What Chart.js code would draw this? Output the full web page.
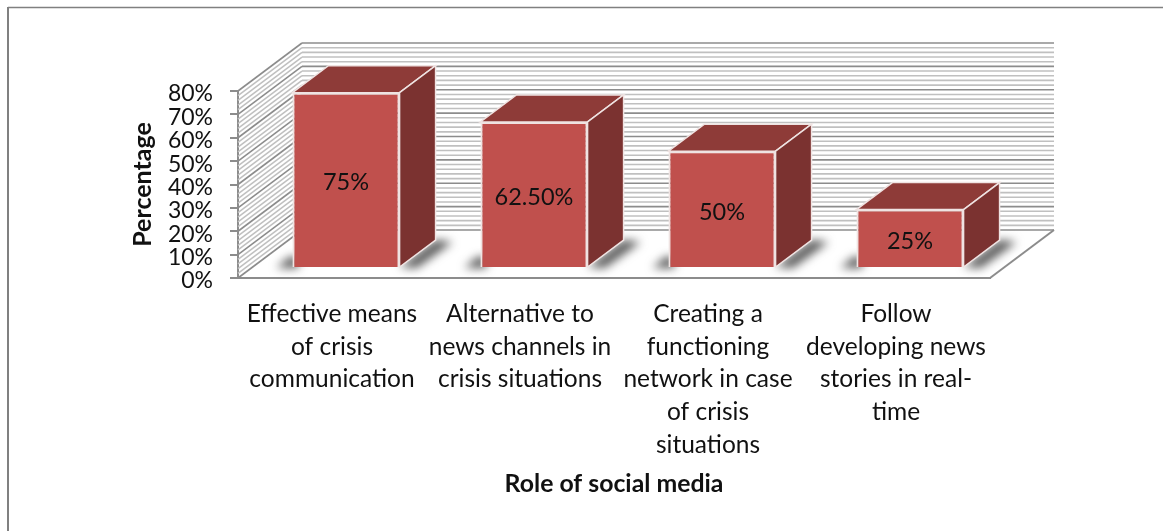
<!DOCTYPE html>
<html>
<head>
<meta charset="utf-8">
<title>Role of social media</title>
<script src="https://cdn.jsdelivr.net/npm/chart.js@4"></script>
<style>
    html, body { margin: 0; padding: 0; background: #fff; }
    canvas { display: block; }
</style>
</head>
<body>
<canvas id="roleChart" width="1163" height="531"></canvas>
<script>
// chart data
var categories = [
    ['Effective means', 'of crisis', 'communication'],
    ['Alternative to', 'news channels in', 'crisis situations'],
    ['Creating a', 'functioning', 'network in case', 'of crisis', 'situations'],
    ['Follow', 'developing news', 'stories in real-', 'time']
];
var percentages = [75, 62.5, 50, 25];
var valueLabels = ['75%', '62.50%', '50%', '25%'];
var minorSteps = [2, 4, 6, 8];

// depth of the box: walls go further back than the bars
var WALL_DX = 64, WALL_DY = -48;
var BAR_DX = 36, BAR_DY = -27;
var FRONT_DX = 14, FRONT_DY = -10;

var GRID_MAJOR = '#8c8c8c';
var GRID_MINOR = '#c0c0c0';
var FONT = 'Lato, Carlito, Calibri, sans-serif';

function line(ctx, x1, y1, x2, y2, color, width) {
    ctx.beginPath();
    ctx.moveTo(x1, y1);
    ctx.lineTo(x2, y2);
    ctx.strokeStyle = color;
    ctx.lineWidth = width;
    ctx.stroke();
}

function poly(ctx, pts, fill, stroke) {
    ctx.beginPath();
    ctx.moveTo(pts[0][0], pts[0][1]);
    for (var i = 1; i < pts.length; i++) ctx.lineTo(pts[i][0], pts[i][1]);
    ctx.closePath();
    ctx.fillStyle = fill;
    ctx.fill();
    if (stroke) {
        ctx.strokeStyle = stroke;
        ctx.lineWidth = 1.5;
        ctx.stroke();
    }
}

var box3d = {
    id: 'box3d',

    beforeDraw: function (chart) {
        // page frame, top and left only
        var ctx = chart.ctx;
        ctx.save();
        line(ctx, 8, 7.5, 1163, 7.5, '#808080', 1.5);
        line(ctx, 8, 7, 8, 531, '#808080', 2);
        ctx.restore();
    },

    beforeDatasetsDraw: function (chart) {
        var ctx = chart.ctx, a = chart.chartArea, y = chart.scales.y;
        ctx.save();

        function wallLine(v, color, width) {
            var py = y.getPixelForValue(v);
            line(ctx, a.left, py, a.left + WALL_DX, py + WALL_DY, color, width);
            line(ctx, a.left + WALL_DX, py + WALL_DY, a.right + WALL_DX, py + WALL_DY, color, width);
        }

        // minor lines first so the major ones sit on top
        for (var t = y.min; t < y.max; t += 10) {
            minorSteps.forEach(function (s) { wallLine(t + s, GRID_MINOR, 1.6); });
        }
        for (var v = y.min; v <= y.max; v += 10) wallLine(v, GRID_MAJOR, 1.6);

        // right edge of the floor
        line(ctx, a.right, a.bottom, a.right + WALL_DX, a.bottom + WALL_DY, GRID_MAJOR, 2);

        // soft shadows on the floor
        ctx.filter = 'blur(5px)';
        chart.getDatasetMeta(0).data.forEach(function (el) {
            var x0 = el.x - el.width / 2 + FRONT_DX;
            var x1 = el.x + el.width / 2 + FRONT_DX;
            var b = el.base + FRONT_DY;
            poly(ctx, [[x0 - 16, b + 1], [x0 - 3, b - 10], [x0 + 6, b - 10], [x0 + 6, b + 1]], 'rgba(80,80,80,0.95)');
            poly(ctx, [[x1, b], [x1 + BAR_DX, b + BAR_DY], [x1 + BAR_DX + 17, b + BAR_DY + 2], [x1 + 17, b + 1]], 'rgba(80,80,80,0.95)');
        });
        ctx.restore();
    },

    // the front faces are the library's own bars, pushed into the floor
    beforeDatasetDraw: function (chart) {
        chart.ctx.save();
        chart.ctx.translate(FRONT_DX, FRONT_DY);
    },

    afterDatasetDraw: function (chart) {
        var ctx = chart.ctx;
        ctx.restore();
        ctx.save();
        chart.getDatasetMeta(0).data.forEach(function (el, i) {
            var x0 = el.x - el.width / 2 + FRONT_DX;
            var x1 = el.x + el.width / 2 + FRONT_DX;
            var top = el.y + FRONT_DY;
            var b = el.base + FRONT_DY;
            poly(ctx, [[x0, top], [x0 + BAR_DX, top + BAR_DY], [x1 + BAR_DX, top + BAR_DY], [x1, top]], '#8e3b38', '#efe3e2');
            poly(ctx, [[x1, top], [x1 + BAR_DX, top + BAR_DY], [x1 + BAR_DX, b + BAR_DY], [x1, b]], '#7b3230', '#efe3e2');

            ctx.fillStyle = '#111';
            ctx.font = '23.5px ' + FONT;
            ctx.textAlign = 'center';
            ctx.textBaseline = 'middle';
            ctx.fillText(valueLabels[i], x0 + el.width / 2, (top + b) / 2 + 3);
        });
        ctx.restore();
    }
};

var ctx = document.getElementById('roleChart').getContext('2d');
var chart = new Chart(ctx, {
    type: 'bar',
    plugins: [box3d],
    data: {
        labels: categories,
        datasets: [{
            data: percentages,
            backgroundColor: '#c0504d',
            borderColor: '#efe3e2',
            borderWidth: 2,
            categoryPercentage: 1,
            barPercentage: 0.57,
            clip: false
        }]
    },
    options: {
        responsive: false,
        animation: false,
        layout: {
            padding: { left: 128, right: 173, top: 91, bottom: 30 }
        },
        plugins: {
            legend: { display: false },
            tooltip: { enabled: false }
        },
        scales: {
            x: {
                afterFit: function (scale) { scale.height = 223; },
                grid: { display: false },
                border: { display: true, color: GRID_MAJOR, width: 2 },
                ticks: {
                    color: '#111',
                    font: { family: FONT, size: 24.5, lineHeight: 1.33 },
                    maxRotation: 0,
                    autoSkip: false,
                    padding: 12
                },
                title: {
                    display: true,
                    text: 'Role of social media',
                    color: '#111',
                    font: { family: FONT, size: 24.8, weight: 'bold' },
                    padding: { top: 0, bottom: 2 }
                }
            },
            y: {
                min: 0,
                max: 80,
                afterFit: function (scale) { scale.width = 110; },
                grid: { drawOnChartArea: false, drawTicks: true, tickLength: 8, color: GRID_MAJOR, lineWidth: 2 },
                border: { display: true, color: GRID_MAJOR, width: 2 },
                ticks: {
                    stepSize: 10,
                    autoSkip: false,
                    color: '#111',
                    padding: 17,
                    labelOffset: 3,
                    font: { family: FONT, size: 23 },
                    callback: function (v) { return v + '%'; }
                },
                title: {
                    display: true,
                    text: 'Percentage',
                    color: '#111',
                    font: { family: FONT, size: 25, weight: 'bold' },
                    padding: { top: 0, bottom: 0 }
                }
            }
        }
    }
});
</script>
</body>
</html>
